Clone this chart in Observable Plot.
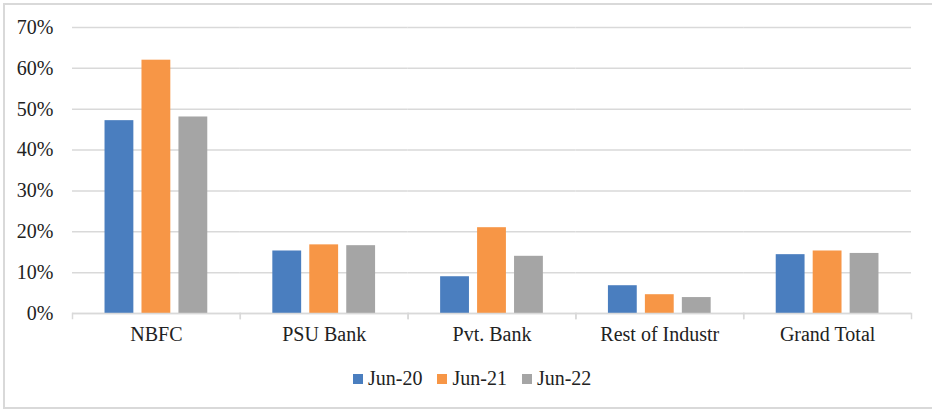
<!DOCTYPE html>
<html>
<head>
<meta charset="utf-8">
<script src="https://cdn.jsdelivr.net/npm/d3@7"></script>
<script src="https://cdn.jsdelivr.net/npm/@observablehq/plot@0.6"></script>
<style>
  html, body { margin: 0; padding: 0; background: #fff; }
  body { width: 932px; height: 410px; position: relative; overflow: hidden; font-family: 'Liberation Serif'; }
  #frame { position: absolute; left: 3px; top: 3px; width: 940px; height: 406px; box-sizing: border-box; border: 2px solid #d9d9d9; }
  #chart { position: absolute; left: 0; top: 0; }
  #chart svg, #chart svg text { font-family: 'Liberation Serif' !important; }
  #legend { position: absolute; left: 353px; top: 367px; display: flex; align-items: center; font-size: 20px; color: #222; font-family: 'Liberation Serif'; }
  .item { display: flex; align-items: center; margin-right: 15px; }
  .sw { width: 10px; height: 10px; margin-right: 5px; }
</style>
</head>
<body>
<div id="frame"></div>
<div id="chart"></div>
<div id="legend"></div>
<script>
const categories = ["NBFC", "PSU Bank", "Pvt. Bank", "Rest of Industr", "Grand Total"];
const series = ["Jun-20", "Jun-21", "Jun-22"];
const jun20 = [0.472, 0.153, 0.090, 0.068, 0.144];
const jun21 = [0.620, 0.168, 0.210, 0.046, 0.153];
const jun22 = [0.481, 0.166, 0.140, 0.039, 0.147];
const yTicks = [0, 0.1, 0.2, 0.3, 0.4, 0.5, 0.6, 0.7];
const colors = ["#4a7ebf", "#f79646", "#a5a5a5"];

const valuesBySeries = [jun20, jun21, jun22];
const data = [];
categories.forEach((c, i) => {
  series.forEach((s, j) => {
    data.push({category: c, series: s, value: valuesBySeries[j][i]});
  });
});

const chart = Plot.plot({
  width: 932,
  height: 360,
  marginLeft: 72,
  marginRight: 21,
  marginTop: 27,
  marginBottom: 47,
  style: "font-family: 'Liberation Serif'; font-size: 20px; color: #222; background: transparent;",
  fx: {domain: categories, padding: 0, round: false},
  x: {domain: series, paddingInner: 0.22, paddingOuter: 0.88, axis: null, round: false},
  y: {domain: [0, 0.7]},
  color: {domain: series, range: colors},
  marks: [
    Plot.gridY(yTicks, {stroke: "#d9d9d9", strokeOpacity: 1, strokeWidth: 1.5}),
    Plot.barY(data, {fx: "category", x: "series", y: "value", fill: "series"}),
    Plot.ruleY([0], {stroke: "#d9d9d9", strokeWidth: 1.5}),
    Plot.frame({anchor: "left", stroke: "#d9d9d9", strokeWidth: 1.5, insetTop: 286, insetBottom: -5}),
    Plot.frame({anchor: "right", stroke: "#d9d9d9", strokeWidth: 1.5, insetTop: 286, insetBottom: -5}),
    Plot.axisY(yTicks, {tickFormat: d3.format(".0%"), tickSize: 0, tickPadding: 19, label: null}),
    Plot.axisFx({anchor: "bottom", tickSize: 0, tickPadding: 13, label: null})
  ]
});
document.getElementById("chart").appendChild(chart);

const legend = document.getElementById("legend");
series.forEach((s, j) => {
  const item = document.createElement("div");
  item.className = "item";
  const sw = document.createElement("div");
  sw.className = "sw";
  sw.style.background = colors[j];
  const t = document.createElement("span");
  t.textContent = s;
  item.appendChild(sw);
  item.appendChild(t);
  legend.appendChild(item);
});
</script>
</body>
</html>
